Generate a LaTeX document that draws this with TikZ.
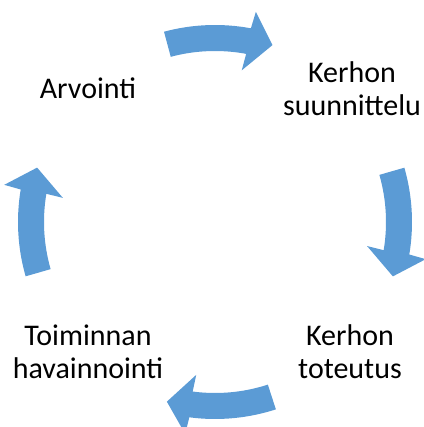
\documentclass[tikz,border=0pt]{standalone}
\usepackage{fontspec}
\setmainfont{Carlito}
\usetikzlibrary{positioning}
\definecolor{cycblue}{HTML}{5B9BD5}

\begin{document}
\begin{tikzpicture}[
  x=1pt, y=1pt,
  every node/.style={font=\fontsize{30}{33}\selectfont},
  lbl/.style={align=center, inner sep=0pt},
  cyc/.style={fill=cycblue, draw=none}
]
\useasboundingbox (-215,-205) rectangle (208,222);
\coordinate (c) at (0,0);
\node[lbl] (arv) at (-127,134) {Arvointi};
\node[lbl] (suun) at (137,133) {Kerhon\\suunnittelu};
\node[lbl] (tot) at (135,-130) {Kerhon\\toteutus};
\node[lbl] (hav) at (-127,-130) {Toiminnan\\havainnointi};
\foreach \r in {0,-89,-177,-269}
  \fill[cyc, rotate=\r] (105:197) arc[start angle=105, end angle=79.5, radius=197]
    -- (79:214) -- (72:186) -- (80:154) -- (79.5:171)
    arc[start angle=79.5, end angle=105, radius=171] -- cycle;
\end{tikzpicture}
\end{document}
